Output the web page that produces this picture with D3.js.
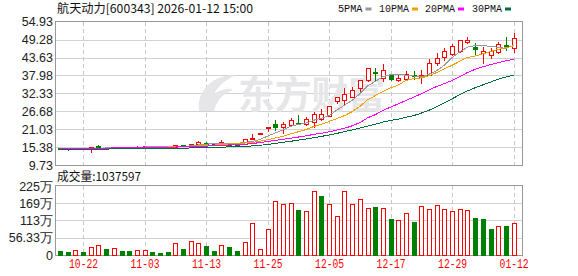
<!DOCTYPE html>
<html>
<head>
<meta charset="utf-8">
<script src="https://cdn.jsdelivr.net/npm/d3@7"></script>
<style>
body { margin: 0; background: #fff; }
svg { display: block; }
</style>
</head>
<body>
<svg id="chart"></svg>
<script>
// 航天动力 daily K-line, 2025-10-17 .. 2026-01-12
const dates = ["2025-10-17","2025-10-20","2025-10-21","2025-10-22","2025-10-23","2025-10-24","2025-10-27","2025-10-28","2025-10-29","2025-10-30","2025-10-31",
  "2025-11-03","2025-11-04","2025-11-05","2025-11-06","2025-11-07","2025-11-10","2025-11-11","2025-11-12","2025-11-13","2025-11-14","2025-11-17","2025-11-18","2025-11-19","2025-11-20","2025-11-21","2025-11-24","2025-11-25","2025-11-26","2025-11-27","2025-11-28",
  "2025-12-01","2025-12-02","2025-12-03","2025-12-04","2025-12-05","2025-12-08","2025-12-09","2025-12-10","2025-12-11","2025-12-12","2025-12-15","2025-12-16","2025-12-17","2025-12-18","2025-12-19","2025-12-22","2025-12-23","2025-12-24","2025-12-25","2025-12-26","2025-12-29","2025-12-30","2025-12-31",
  "2026-01-05","2026-01-06","2026-01-07","2026-01-08","2026-01-09","2026-01-12"];

const opens  = [15.05,14.95,14.85,15.00,14.80,15.85,14.90,15.15,15.50,15.35,15.45,15.50,15.65,15.55,15.45,15.40,15.90,15.72,16.30,16.80,16.60,16.45,16.50,16.40,16.35,18.15,19.45,21.80,22.75,21.80,22.35,23.00,22.60,23.20,24.25,25.20,30.00,30.25,31.30,34.05,36.55,39.00,37.10,38.10,36.55,36.80,38.00,37.35,38.10,41.80,43.75,44.60,45.60,48.40,47.05,44.90,44.30,45.25,47.60,46.70];
const highs  = [15.15,15.00,15.05,15.05,15.40,15.95,15.30,15.55,15.55,15.40,15.75,15.70,15.70,15.60,15.50,16.05,16.10,16.45,17.30,16.85,16.65,17.60,16.60,16.45,18.00,19.50,19.90,21.84,23.90,23.40,24.65,25.50,24.90,26.55,27.40,28.25,31.10,33.90,34.25,36.40,40.33,40.25,41.45,38.20,38.10,39.40,39.40,39.70,43.05,45.15,46.55,48.05,49.10,50.00,48.30,46.95,46.55,48.40,50.20,51.30];
const lows   = [14.80,14.45,14.80,14.85,13.90,15.30,14.85,15.10,15.30,15.25,15.40,15.45,15.50,15.40,15.30,15.35,15.60,15.70,16.25,16.05,16.35,16.40,16.30,16.20,16.30,18.10,19.40,20.60,20.80,19.75,22.30,22.60,22.50,21.80,23.90,25.10,29.40,28.65,31.10,32.75,36.30,36.55,36.20,36.40,36.35,36.50,36.80,35.60,38.00,41.30,42.85,44.50,45.40,48.15,44.75,42.00,43.50,45.10,46.00,45.35];
const closes = [14.90,14.85,15.00,14.90,15.30,15.40,15.20,15.45,15.35,15.30,15.55,15.65,15.55,15.45,15.35,15.95,15.75,16.35,16.90,16.70,16.40,16.95,16.40,16.30,17.95,18.25,19.85,21.84,21.30,22.55,24.00,22.70,24.25,25.75,25.70,28.25,31.10,32.15,33.40,36.40,40.33,38.45,39.70,36.55,37.05,38.45,37.40,38.10,41.80,43.40,45.55,47.35,49.10,49.15,46.00,45.70,45.60,47.75,46.80,49.65];

// volume in 万 shares, and whether the day closed up (red) or down (green)
const volumes = [14,11,17,12,26,32,20,24,14,14,17,17,11,7.5,11,40,20,46,40,30,14,33,27,14,43,105,19,85,176,166,170,148,144,209,194,166,128,209,166,183,154,157,154,118,115,137,109,160,150,163,150,144,150,147,122,119,87,95,95,103.76];
const volUp = [0,0,1,0,1,1,0,1,0,0,1,1,0,0,0,1,0,1,1,0,0,1,0,0,1,1,1,1,1,1,1,0,1,1,0,1,1,1,1,1,1,0,1,0,1,1,0,1,1,1,1,1,1,1,0,0,0,1,0,1];

const ma5  = [14.95,14.95,14.90,14.90,14.95,15.05,15.10,15.20,15.30,15.30,15.40,15.40,15.45,15.50,15.50,15.55,15.60,15.75,16.05,16.30,16.50,16.65,16.65,16.55,16.80,17.15,17.80,18.85,19.85,20.75,21.95,22.50,22.95,23.85,24.50,25.35,27.00,28.60,30.10,32.20,34.70,36.10,37.60,38.20,38.40,38.05,37.80,37.50,38.35,39.50,41.20,43.60,45.40,46.90,47.40,47.50,47.10,46.90,46.50,47.50];
const ma10 = [14.85,14.85,14.85,14.90,14.90,14.95,15.00,15.05,15.10,15.15,15.20,15.25,15.30,15.35,15.40,15.45,15.50,15.60,15.75,15.90,16.00,16.20,16.35,16.45,16.65,16.85,17.20,17.70,18.25,18.75,19.55,20.20,20.90,21.85,22.60,23.45,24.35,25.30,26.55,28.20,30.30,31.60,32.95,34.05,34.95,36.40,36.95,37.20,37.90,38.90,40.05,41.20,42.45,43.65,44.10,44.80,45.50,46.20,46.75,47.30];
const ma20 = [14.80,14.80,14.80,14.80,14.80,14.85,14.90,15.20,15.20,15.25,15.25,15.30,15.30,15.30,15.35,15.40,15.45,15.55,15.60,15.70,15.80,15.95,16.05,16.15,16.30,16.50,16.80,17.15,17.50,17.85,18.20,18.55,18.90,19.40,19.75,20.20,20.75,21.30,22.10,23.10,24.60,25.60,26.95,28.00,29.00,30.10,31.10,32.20,33.40,34.50,35.40,36.40,37.60,38.90,39.90,40.70,41.40,42.00,42.60,43.10];
const ma30 = [14.60,14.60,14.60,14.60,14.60,14.60,14.65,14.95,14.95,14.95,14.95,14.95,14.95,14.95,15.00,15.00,15.05,15.10,15.15,15.25,15.30,15.35,15.45,15.50,15.60,15.75,15.95,16.20,16.55,16.90,17.20,17.60,17.95,18.35,18.75,19.20,19.70,20.25,20.80,21.40,22.00,22.55,23.25,23.80,24.20,24.80,25.30,26.10,27.00,28.10,29.40,30.60,31.90,33.10,34.10,35.00,35.90,36.80,37.50,38.10];

const priceTicks = [9.73,15.38,21.03,26.68,32.33,37.98,43.63,49.28,54.93];
const volTicks = [0,56.33,113,169,225];
const tickDates = ["2025-10-22","2025-11-03","2025-11-13","2025-11-25","2025-12-05","2025-12-17","2025-12-29","2026-01-12"];
const lastVolume = 1037597;

const W = 578, H = 276;
const left = 56, right = 522;
const RED = "#ff0000", GREEN = "#008000";
const maColors = ["#999999", "#f0a000", "#ff00ff", "#006b3c"];

const svg = d3.select("#chart").attr("width", W).attr("height", H);
svg.append("rect").attr("width", W).attr("height", H).attr("fill", "#fff");

const x = d3.scalePoint().domain(dates).range([60, 513.6]);
const yP = d3.scaleLinear().domain([9.73, 54.93]).range([165, 21.7]);
const yV = d3.scaleLinear().domain([0, 225]).range([255.3, 186]);
const px = v => Math.round(v) + 0.5;

// grid lines
const grid = svg.append("g");
priceTicks.slice(1, -1).forEach(t => {
  grid.append("line").attr("x1", left).attr("x2", right)
    .attr("y1", px(yP(t))).attr("y2", px(yP(t))).attr("stroke", "#d2d2d2");
});
volTicks.slice(1, -1).forEach(t => {
  grid.append("line").attr("x1", left).attr("x2", right)
    .attr("y1", px(yV(t))).attr("y2", px(yV(t))).attr("stroke", "#d2d2d2");
});
tickDates.forEach(d => {
  [[22, 165], [186, 255]].forEach(([a, b]) => {
    grid.append("line").attr("x1", px(x(d))).attr("x2", px(x(d)))
      .attr("y1", a).attr("y2", b)
      .attr("stroke", "#c8c8c8").attr("stroke-dasharray", "4,3");
  });
});

// watermark
const wm = svg.append("g").attr("fill", "#e6e6e8");
wm.append("path").attr("d", "M199,111 C197,95 206,82 222,77 C228,75 233,75 234,76 C226,80 218,86 214,94 C223,88 231,88 233,90 C224,93 217,100 214,111 Z");
wm.append("text").attr("x", 238).attr("y", 108)
  .attr("font-family", "'Noto Sans CJK SC', sans-serif").attr("font-weight", "bold")
  .attr("font-size", 38).attr("textLength", 147).attr("lengthAdjust", "spacingAndGlyphs")
  .text("东方财富");

// panel frames
const frame = svg.append("g").attr("stroke", "#999").attr("fill", "none");
frame.append("rect").attr("x", 55.5).attr("y", 21.5).attr("width", right - 55 ).attr("height", 144);
frame.append("rect").attr("x", 55.5).attr("y", 185.5).attr("width", right - 55).attr("height", 70);

// candles
const candles = svg.append("g");
dates.forEach((d, i) => {
  const cx = Math.round(x(d));
  const up = closes[i] >= opens[i];
  const col = up ? RED : GREEN;
  candles.append("line").attr("x1", cx + 0.5).attr("x2", cx + 0.5)
    .attr("y1", Math.round(yP(highs[i]))).attr("y2", Math.round(yP(lows[i])) + 1)
    .attr("stroke", col);
  const yo = Math.round(yP(opens[i])), yc = Math.round(yP(closes[i]));
  if (up) {
    candles.append("rect").attr("x", cx - 1.5).attr("y", yc + 0.5)
      .attr("width", 4).attr("height", Math.max(yo - yc, 1))
      .attr("fill", "#fff").attr("stroke", col);
  } else {
    candles.append("rect").attr("x", cx - 2).attr("y", yo)
      .attr("width", 5).attr("height", Math.max(yc - yo, 2))
      .attr("fill", col);
  }
});

// moving averages
const line = d3.line().x((v, i) => x(dates[i])).y(v => yP(v));
[ma5, ma10, ma20, ma30].forEach((s, k) => {
  svg.append("path").datum(s).attr("d", line)
    .attr("fill", "none").attr("stroke", maColors[k]).attr("stroke-width", 1)
    .attr("shape-rendering", "crispEdges");
});

// volume bars
const vol = svg.append("g");
dates.forEach((d, i) => {
  const cx = Math.round(x(d));
  const top = Math.round(yV(volumes[i]));
  if (volUp[i]) {
    vol.append("rect").attr("x", cx - 1.5).attr("y", top + 0.5)
      .attr("width", 4).attr("height", 255 - top)
      .attr("fill", "#fff").attr("stroke", RED);
  } else {
    vol.append("rect").attr("x", cx - 2).attr("y", top)
      .attr("width", 5).attr("height", 256 - top).attr("fill", GREEN);
  }
});

// axes
const axisFont = "'Liberation Sans', Arial, sans-serif";
const pAxis = svg.append("g").attr("transform", "translate(54,0)")
  .call(d3.axisLeft(yP).tickValues(priceTicks).tickSize(0).tickPadding(1).tickFormat(d3.format(".2f")));
const vAxis = svg.append("g").attr("transform", "translate(54,0)")
  .call(d3.axisLeft(yV).tickValues(volTicks).tickSize(0).tickPadding(1)
    .tickFormat(d => d === 0 ? "0" : d + "万"));
[pAxis, vAxis].forEach(g => {
  g.select(".domain").remove();
  g.selectAll("text").attr("font-family", axisFont).attr("font-size", 12.5).attr("fill", "#222");
});

const xAxis = svg.append("g").attr("transform", "translate(0,259)")
  .call(d3.axisBottom(x).tickValues(tickDates).tickSize(0).tickPadding(0).tickFormat(d => d.slice(5)));
xAxis.select(".domain").remove();
xAxis.selectAll("text").attr("font-family", "'Liberation Mono', monospace").attr("font-size", 12.5)
  .attr("fill", RED).attr("textLength", 29).attr("lengthAdjust", "spacingAndGlyphs");

// title and legend
svg.append("text").attr("x", 57).attr("y", 12.5)
  .attr("font-family", "'Noto Sans CJK SC', sans-serif").attr("font-size", 12).attr("fill", "#111")
  .attr("textLength", 196).attr("lengthAdjust", "spacingAndGlyphs")
  .text("航天动力[600343] 2026-01-12 15:00");

const legendNames = ["5PMA", "10PMA", "20PMA", "30PMA"];
const legendX = [338, 379, 425, 472];
const legendW = [24.5, 30, 30, 30];
legendNames.forEach((n, k) => {
  svg.append("text").attr("x", legendX[k]).attr("y", 12)
    .attr("font-family", "'Liberation Mono', monospace").attr("font-size", 11).attr("fill", "#111")
    .attr("textLength", legendW[k]).attr("lengthAdjust", "spacingAndGlyphs").text(n);
  svg.append("rect").attr("x", legendX[k] + legendW[k] + 3).attr("y", 7.5)
    .attr("width", 6).attr("height", 3).attr("fill", maColors[k]);
});

svg.append("text").attr("x", 57).attr("y", 181)
  .attr("font-family", "'Noto Sans CJK SC', sans-serif").attr("font-size", 12).attr("fill", "#111")
  .attr("textLength", 84).attr("lengthAdjust", "spacingAndGlyphs")
  .text("成交量:" + lastVolume);
</script>
</body>
</html>
